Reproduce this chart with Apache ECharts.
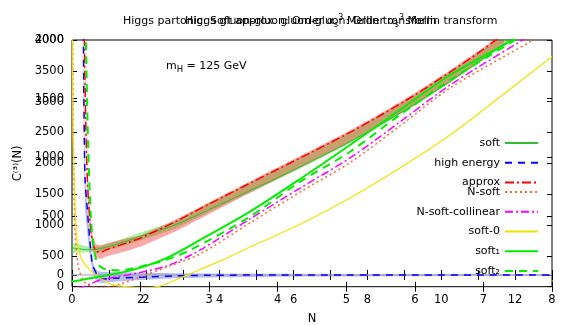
<!DOCTYPE html>
<html>
<head>
<meta charset="utf-8">
<script src="https://cdn.jsdelivr.net/npm/echarts@6/dist/echarts.min.js"></script>
<style>html,body{margin:0;padding:0;background:#fff}#container{width:581px;height:325px}</style>
</head>
<body>
<div id="container"></div>
<script>
// plot A : x = N (1..8), y = C(3)(N) (0..4000)
var approxN = [1.18, 1.2, 1.225, 1.26, 1.3, 1.35, 1.42, 1.5, 1.8, 2, 2.5, 3, 3.5, 4, 4.5, 5, 5.5, 6, 6.5, 7, 7.3];
var approxC = [4050, 2700, 1700, 1080, 720, 580, 560, 600, 710, 790, 1050, 1340, 1625, 1905, 2185, 2470, 2780, 3110, 3470, 3850, 4100];
var approxLo = [3700, 2450, 1500, 930, 600, 470, 450, 490, 580, 650, 890, 1180, 1465, 1745, 2025, 2310, 2620, 2950, 3310, 3690, 3940];
var approxHi = [4400, 2950, 1900, 1230, 840, 690, 670, 700, 780, 830, 1080, 1370, 1655, 1935, 2215, 2500, 2810, 3140, 3500, 3880, 4130];

var softN = [1.0, 1.1, 1.2, 1.3, 1.4, 1.5, 1.75, 2, 2.5, 3, 3.5, 4, 4.5, 5, 5.5, 6, 6.5, 7, 7.4];
var softC = [630, 615, 600, 600, 615, 640, 720, 820, 1000, 1250, 1510, 1770, 2040, 2320, 2630, 2960, 3320, 3700, 4020];
var softLo = [545, 550, 555, 560, 570, 590, 660, 750, 940, 1210, 1480, 1740, 2010, 2290, 2600, 2930, 3290, 3670, 3990];
var softHi = [710, 690, 660, 645, 660, 690, 780, 880, 1060, 1360, 1630, 1910, 2190, 2470, 2780, 3110, 3470, 3850, 4170];

var heN = [1.165, 1.175, 1.19, 1.22, 1.26, 1.3, 1.34, 1.38, 1.45, 1.6, 2, 2.5, 3, 4, 5, 6, 7, 8];
var heC = [4100, 2900, 1750, 1300, 760, 350, 250, 160, 125, 135, 155, 175, 185, 190, 190, 190, 190, 190];
var heLo = [3000, 2100, 1250, 900, 520, 230, 120, 70, 60, 80, 110, 135, 150, 160, 165, 170, 172, 175];
var heHi = [4300, 3100, 1900, 1350, 820, 400, 300, 250, 240, 240, 230, 220, 215, 210, 207, 205, 203, 202];

// plot B : x = N (0..13), y = C(3)(N) (-100..2000), soft approximations
var soft0N = [0.005, 0.027, 0.081, 0.135, 0.271, 0.49, 0.84, 1.11, 1.57, 1.98, 2.38, 2.74, 3.47, 4.09, 4.82, 6.18, 7.53, 8.88, 10.24, 11.59, 13];
var soft0C = [2300, 1230, 640, 300, 130, 43, -43, -85, -102, -110, -95, -51, 47, 128, 238, 432, 655, 910, 1191, 1515, 1858];

var soft1N = [0, 0.76, 1.65, 2.57, 3.47, 4.82, 6.18, 7.53, 8.88, 10.24, 11.94, 12.3];
var soft1C = [-57, -14, 43, 145, 298, 539, 817, 1106, 1404, 1702, 2000, 2070];

var soft2N = [0.37, 0.433, 0.515, 0.596, 0.677, 0.813, 1.03, 1.3, 1.84, 2.38, 3.11, 4.82, 6.18, 7.53, 8.88, 10.24, 12.0, 12.3];
var soft2C = [2100, 1150, 470, 215, 110, 60, 43, 37, 71, 113, 198, 496, 794, 1049, 1362, 1659, 2000, 2060];

var nscN = [0.15, 0.49, 0.76, 1.65, 2.57, 3.47, 4.82, 6.18, 7.53, 8.88, 10.24, 12.2, 12.5];
var nscC = [-120, -77, -43, 9, 77, 213, 477, 740, 996, 1302, 1617, 2000, 2060];

var nsN = [0.02, 0.041, 0.081, 0.163, 0.298, 0.49, 0.76, 1.3, 1.84, 2.65, 3.47, 4.82, 6.18, 7.53, 8.88, 10.24, 12.49, 12.8];
var nsC = [2100, 1064, 383, 85, -43, -94, -110, -77, -17, 77, 179, 443, 706, 956, 1268, 1591, 2000, 2060];

var xLabelsB = [0, 2, 4, 6, 8, 10, 12];
var xTicksB = [0, 1, 2, 3, 4, 5, 6, 7, 8, 9, 10, 11, 12, 13];
var yTicksB = [0, 500, 1000, 1500, 2000];

var dom = document.getElementById('container');
var myChart = echarts.init(dom, null, { renderer: 'canvas' });

var FONT = 'DejaVu Sans';

function pairs(xs, ys) {
    return xs.map(function (x, i) { return [x, ys[i]]; });
}

// filled band drawn as a polygon through the axes
function band(name, xs, lo, hi, color, xi, yi) {
    return {
        type: 'custom', name: name, xAxisIndex: xi, yAxisIndex: yi,
        clip: true, silent: true, z: 1,
        data: [[xs[0], lo[0]]],
        renderItem: function (params, api) {
            var pts = [];
            for (var i = 0; i < xs.length; i++) pts.push(api.coord([xs[i], hi[i]]));
            for (var j = xs.length - 1; j >= 0; j--) pts.push(api.coord([xs[j], lo[j]]));
            return { type: 'polygon', shape: { points: pts }, style: { fill: color } };
        }
    };
}

function line(name, xs, ys, color, width, type, xi, yi) {
    return {
        type: 'line', name: name, xAxisIndex: xi, yAxisIndex: yi,
        data: pairs(xs, ys), symbol: 'none', showSymbol: false,
        smooth: 0.3, clip: true, z: 3,
        lineStyle: { color: color, width: width, type: type },
        itemStyle: { color: color }
    };
}

function plain(v) { return String(v); }

var tickStyle = { inside: true, length: 5, lineStyle: { color: '#000' } };
var labStyle = { color: '#000', fontSize: 11.5, fontFamily: FONT, margin: 8, formatter: plain };
var titleRich = {
    s: { fontSize: 8, verticalAlign: 'bottom', fontFamily: FONT },
    p: { fontSize: 8, verticalAlign: 'top', fontFamily: FONT }
};
var noIcon = { color: 'rgba(0,0,0,0)', borderColor: 'rgba(0,0,0,0)', borderWidth: 0 };

option = {
    animation: false,
    backgroundColor: '#fff',
    textStyle: { fontFamily: FONT },
    title: [
        {
            text: 'Higgs partonic: Soft approx. gluon-gluon: Order α{s|s}{p|3} Mellin transform',
            left: 123, top: 14, padding: 0,
            textStyle: { fontSize: 11, fontWeight: 'normal', color: '#000', fontFamily: FONT, lineHeight: 15, rich: titleRich }
        },
        {
            text: 'Higgs gluon-gluon: Order α{s|s}{p|3} Mellin transform',
            left: 185, top: 14, padding: 0,
            textStyle: { fontSize: 11, fontWeight: 'normal', color: '#000', fontFamily: FONT, lineHeight: 15, rich: titleRich }
        },
        {
            text: 'm{s|H} = 125 GeV',
            left: 166, top: 58, padding: 0,
            textStyle: { fontSize: 11, fontWeight: 'normal', color: '#000', fontFamily: FONT, lineHeight: 16,
                rich: { s: { fontSize: 8.5, verticalAlign: 'bottom', fontFamily: FONT } } }
        }
    ],
    grid: {
        left: 72, right: 29, top: 40, bottom: 38.3, outerBoundsMode: 'none', containLabel: false,
        show: true, borderColor: '#000', borderWidth: 1, backgroundColor: 'transparent'
    },
    legend: [
        {
            data: ['soft', 'high energy', 'approx'],
            orient: 'vertical', align: 'right', right: 42, top: 137.5, padding: 0,
            itemWidth: 33, itemHeight: 14, itemGap: 8.5, selectedMode: false, itemStyle: noIcon,
            textStyle: { color: '#000', fontSize: 11, fontFamily: FONT }
        },
        {
            data: ['N-soft', 'N-soft-collinear', 'soft-0', 'soft₁', 'soft₂'],
            orient: 'vertical', align: 'right', right: 42, top: 186.5, padding: 0,
            itemWidth: 33, itemHeight: 14, itemGap: 8.5, selectedMode: false, itemStyle: noIcon,
            textStyle: { color: '#000', fontSize: 11, fontFamily: FONT }
        }
    ],
    xAxis: [
        {
            type: 'value', min: 1, max: 8, interval: 1, position: 'bottom',
            name: 'N', nameLocation: 'middle', nameGap: 26,
            nameTextStyle: { color: '#000', fontSize: 11.5, fontFamily: FONT },
            axisLine: { show: false }, splitLine: { show: false }, axisTick: tickStyle,
            axisLabel: Object.assign({}, labStyle, { margin: 7, formatter: function (v) { return v === 1 ? '' : String(v); } })
        },
        {
            type: 'value', min: 0, max: 13, position: 'bottom',
            axisLine: { show: false }, splitLine: { show: false },
            axisTick: Object.assign({}, tickStyle, { customValues: xTicksB }),
            axisLabel: Object.assign({}, labStyle, { margin: 7, customValues: xLabelsB })
        },
        {
            type: 'value', min: 1, max: 8, interval: 1, position: 'top',
            axisLine: { show: false }, splitLine: { show: false }, axisTick: tickStyle,
            axisLabel: { show: false }
        },
        {
            type: 'value', min: 0, max: 13, position: 'top',
            axisLine: { show: false }, splitLine: { show: false },
            axisTick: Object.assign({}, tickStyle, { customValues: xTicksB }),
            axisLabel: { show: false }
        }
    ],
    yAxis: [
        {
            type: 'value', min: 0, max: 4000, interval: 500, position: 'left',
            name: 'C⁽³⁾(N)', nameLocation: 'middle', nameGap: 47, nameRotate: 90,
            nameTextStyle: { color: '#000', fontSize: 11.5, fontFamily: FONT },
            axisLine: { show: false }, splitLine: { show: false }, axisTick: tickStyle,
            axisLabel: labStyle
        },
        {
            type: 'value', min: -100, max: 2000, position: 'left',
            axisLine: { show: false }, splitLine: { show: false },
            axisTick: Object.assign({}, tickStyle, { customValues: yTicksB }),
            axisLabel: Object.assign({}, labStyle, { customValues: yTicksB })
        },
        {
            type: 'value', min: 0, max: 4000, interval: 500, position: 'right',
            axisLine: { show: false }, splitLine: { show: false }, axisTick: tickStyle,
            axisLabel: { show: false }
        },
        {
            type: 'value', min: -100, max: 2000, position: 'right',
            axisLine: { show: false }, splitLine: { show: false },
            axisTick: Object.assign({}, tickStyle, { customValues: yTicksB }),
            axisLabel: { show: false }
        }
    ],
    series: [
        // zero line of the soft plot
        {
            type: 'line', name: 'zero', xAxisIndex: 1, yAxisIndex: 1, data: [[0, 0], [13, 0]],
            symbol: 'none', silent: true, z: 2, lineStyle: { color: '#a0a0a8', width: 1 }
        },
        band('soft band', softN, softLo, softHi, 'rgba(62,220,27,0.40)', 0, 0),
        band('approx band', approxN, approxLo, approxHi, 'rgba(240,10,10,0.35)', 0, 0),
        band('high energy band', heN, heLo, heHi, 'rgba(60,80,230,0.38)', 0, 0),
        line('soft', softN, softC, '#33bb33', 1, 'solid', 0, 0),
        line('high energy', heN, heC, '#0000ff', 1.5, [7, 6], 0, 0),
        line('approx', approxN, approxC, '#ff0000', 1.5, [9, 3, 2, 3], 0, 0),
        line('N-soft', nsN, nsC, '#ff6a2a', 1.5, [2, 3], 1, 1),
        line('N-soft-collinear', nscN, nscC, '#ff00ff', 1.5, [8, 3, 2, 3], 1, 1),
        line('soft-0', soft0N, soft0C, '#f2e200', 1.2, 'solid', 1, 1),
        line('soft₁', soft1N, soft1C, '#00ee00', 2, 'solid', 1, 1),
        line('soft₂', soft2N, soft2C, '#00ee00', 2, [8, 6], 1, 1)
    ]
};

myChart.setOption(option);
</script>
</body>
</html>
